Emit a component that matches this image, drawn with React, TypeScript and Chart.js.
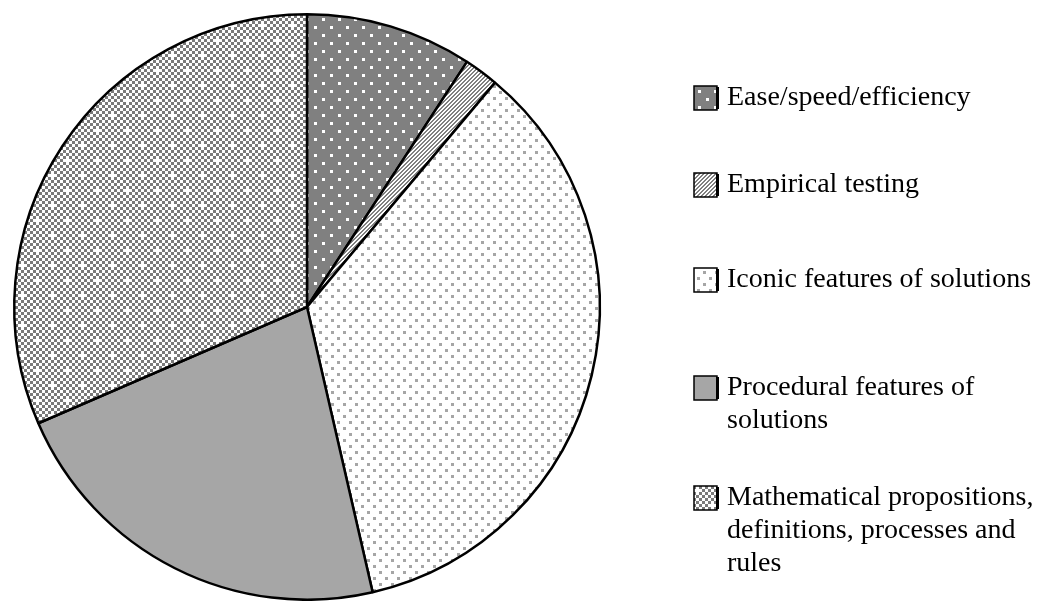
import React, { useEffect, useRef } from "react";
import { Chart, registerables } from "chart.js";

Chart.register(...registerables);

const categories = [
  "Ease/speed/efficiency",
  "Empirical testing",
  "Iconic features of solutions",
  "Procedural features of solutions",
  "Mathematical propositions, definitions, processes and rules",
];
const values = [9.2, 1.9, 35.3, 22.1, 31.5];
const legendLines = [
  ["Ease/speed/efficiency"],
  ["Empirical testing"],
  ["Iconic features of solutions"],
  ["Procedural features of", "solutions"],
  ["Mathematical propositions,", "definitions, processes and", "rules"],
];
const patternKinds = ["whiteDots", "stripes", "grayDots", "solid", "checker"];

function makePattern(kind: string): CanvasPattern | string {
  const c = document.createElement("canvas");
  const g = c.getContext("2d")!;
  if (kind === "whiteDots") {
    c.width = 16; c.height = 16;
    g.fillStyle = "#808080"; g.fillRect(0, 0, 16, 16);
    g.fillStyle = "#ffffff";
    g.fillRect(2, 2, 3, 3); g.fillRect(10, 10, 3, 3);
  } else if (kind === "stripes") {
    c.width = 4; c.height = 4;
    g.fillStyle = "#ffffff"; g.fillRect(0, 0, 4, 4);
    g.fillStyle = "#808080";
    for (let x = 0; x < 4; x++) for (let y = 0; y < 4; y++) if ((x + y) % 4 < 2) g.fillRect(x, y, 1, 1);
  } else if (kind === "grayDots") {
    c.width = 12; c.height = 12;
    g.fillStyle = "#ffffff"; g.fillRect(0, 0, 12, 12);
    g.fillStyle = "#a6a6a6";
    g.fillRect(1, 1, 3, 3); g.fillRect(7, 7, 3, 3);
  } else if (kind === "solid") {
    return "#a6a6a6";
  } else {
    c.width = 30; c.height = 30;
    g.fillStyle = "#ffffff"; g.fillRect(0, 0, 30, 30);
    g.fillStyle = "#7a7a7a";
    for (let i = 0; i < 10; i++)
      for (let j = 0; j < 10; j++) {
        if ((i + j) % 2 === 1 && !((i === 2 && j === 3) || (i === 7 && j === 8))) g.fillRect(i * 3, j * 3, 3, 3);
      }
  }
  return g.createPattern(c, "repeat")!;
}

const legendTop = [98, 185, 280, 388, 498];

export default function App() {
  const ref = useRef<HTMLCanvasElement>(null);
  useEffect(() => {
    document.body.style.margin = "0";
    document.body.style.overflow = "hidden";
    const fills = patternKinds.map(makePattern);
    const legendPlugin = {
      id: "customLegend",
      afterDraw(chart: any) {
        const ctx = chart.ctx as CanvasRenderingContext2D;
        ctx.save();
        ctx.font = '28px "Liberation Serif", "Times New Roman", serif';
        ctx.textBaseline = "middle";
        ctx.fillStyle = "#000";
        legendLines.forEach((lines, i) => {
          const cy = legendTop[i];
          ctx.fillStyle = fills[i] as any;
          ctx.fillRect(694, cy - 12, 23, 24);
          ctx.strokeStyle = "#000";
          ctx.lineWidth = 1.5;
          ctx.strokeRect(694, cy - 12, 23, 24);
          ctx.fillStyle = "#000";
          ctx.fillRect(716, cy - 11, 3, 22);
          lines.forEach((t, k) => ctx.fillText(t, 727, cy + k * 33));
        });
        ctx.restore();
      },
    };
    const chart = new Chart(ref.current!, {
      type: "pie",
      data: {
        labels: categories,
        datasets: [
          {
            data: values,
            backgroundColor: fills as any,
            borderColor: "#000000",
            borderWidth: 2.5,
          },
        ],
      },
      options: {
        responsive: false,
        animation: false,
        layout: { padding: { left: 13, top: 13, right: 436, bottom: 0 } },
        plugins: { legend: { display: false }, tooltip: { enabled: false } },
      },
      plugins: [legendPlugin],
    });
    return () => chart.destroy();
  }, []);
  return <canvas ref={ref} width={1037} height={601} style={{ display: "block" }} />;
}
